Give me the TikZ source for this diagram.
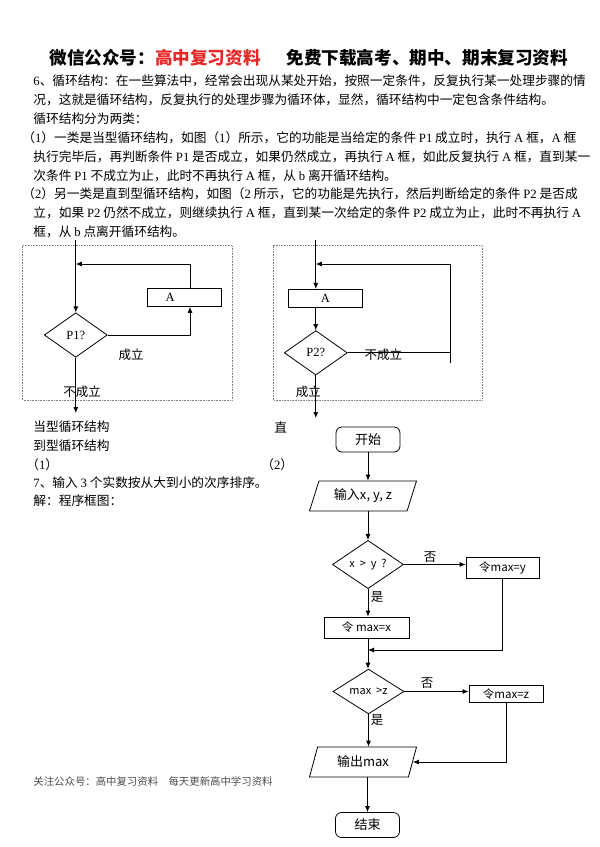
\documentclass[tikz,border=0pt]{standalone}
\usepackage{fontspec}
\setmainfont{Noto Sans CJK SC}
\newfontfamily\latfont{Liberation Serif}
\usepackage{xcolor}
\usetikzlibrary{shapes.geometric,arrows.meta,positioning,calc}
\definecolor{hdrred}{RGB}{230,40,40}
\newcommand{\lat}[1]{{\latfont #1}}
\tikzstyle{txt}=[anchor=west, inner sep=0pt, font=\fontsize{12.7}{15}\selectfont]
\tikzstyle{lbl}=[inner sep=0pt, font=\fontsize{12.5}{15}\selectfont]
\tikzstyle{loopframe}=[draw=gray, densely dotted, line width=0.6pt]
\tikzstyle{abox}=[draw, rectangle, inner sep=0pt, minimum width=74pt, minimum height=18.5pt, font=\fontsize{12.5}{15}\selectfont]
\tikzstyle{cond}=[draw, diamond, inner sep=0pt, minimum width=63pt, minimum height=44.5pt, font=\fontsize{12.5}{15}\selectfont]
\tikzstyle{cond3}=[draw, diamond, inner sep=0pt, minimum width=71pt, minimum height=37pt, font=\fontsize{11}{13}\selectfont]
\tikzstyle{proc}=[draw, rectangle, inner sep=0pt, minimum width=73pt, minimum height=21pt, font=\fontsize{11.5}{13}\selectfont]
\tikzstyle{term}=[draw, rectangle, rounded corners=6pt, inner sep=0pt, minimum width=64pt, minimum height=25pt, font=\fontsize{13}{15}\selectfont]
\tikzstyle{io}=[draw, trapezium, trapezium left angle=56, trapezium right angle=124, trapezium stretches body=true, inner sep=0pt, minimum width=107pt, minimum height=30pt, font=\fontsize{13}{15}\selectfont]

\begin{document}
\begin{tikzpicture}[x=1pt, y=-1pt, line width=0.8pt, >={Latex[length=6pt,width=5pt]}]
\useasboundingbox (0,0) rectangle (600,847);

% titre
\node[anchor=west, inner sep=0pt, font=\fontsize{17.6}{20}\selectfont\bfseries] (head) at (49,58)
  {微信公众号：\textcolor{hdrred}{高中复习资料}\hspace{26pt}免费下载高考、期中、期末复习资料};

% texte
\node[txt] (l1) at (33,81) {\lat{6}、循环结构：在一些算法中，经常会出现从某处开始，按照一定条件，反复执行某一处理步骤的情};
\node[txt] (l2) at (33,100) {况，这就是循环结构，反复执行的处理步骤为循环体，显然，循环结构中一定包含条件结构。};
\node[txt] (l3) at (33,119) {循环结构分为两类：};
\node[txt] (l4) at (22,138) {（\lat{1}）一类是当型循环结构，如图（\lat{1}）所示，它的功能是当给定的条件 \lat{P1} 成立时，执行 \lat{A} 框，\lat{A} 框};
\node[txt] (l5) at (33,157) {执行完毕后，再判断条件 \lat{P1} 是否成立，如果仍然成立，再执行 \lat{A} 框，如此反复执行 \lat{A} 框，直到某一};
\node[txt] (l6) at (33,176) {次条件 \lat{P1} 不成立为止，此时不再执行 \lat{A} 框，从 \lat{b} 离开循环结构。};
\node[txt] (l7) at (22,194) {（\lat{2}）另一类是直到型循环结构，如图（\lat{2} 所示，它的功能是先执行，然后判断给定的条件 \lat{P2} 是否成};
\node[txt] (l8) at (33,213) {立，如果 \lat{P2} 仍然不成立，则继续执行 \lat{A} 框，直到某一次给定的条件 \lat{P2} 成立为止，此时不再执行 \lat{A}};
\node[txt] (l9) at (33,232) {框，从 \lat{b} 点离开循环结构。};

%当型
\draw[loopframe] (22.7,245.7) rectangle (232,400);
\node[cond] (p1) at (75.8,335) {\lat{P1?}};
\node[abox] (a1) at (184.7,297.2) {\lat{A}\hspace*{29pt}};
\coordinate (b1) at (75.8,240);
\coordinate (j1) at (75.8,264);
\coordinate (r1) at (190,264);
\coordinate (o1) at (75.8,413);
\draw (b1) -- (j1);
\draw[->] (j1) -- (p1.north);
\draw[->] (a1.north -| r1) -- (r1) -- (j1);
\draw[->] (p1.east) -| (a1.south -| r1);
\draw[->] (p1.south) -- (o1);
\node[lbl] (y1) at (131,355) {成立};
\node[lbl] (n1) at (82,392) {不成立};

% 直到型
\draw[loopframe] (273,245.7) rectangle (482,400);
\node[abox] (a2) at (325.3,298.5) {\lat{A}};
\node[cond] (p2) at (315.8,352.8) {\lat{P2?}};
\coordinate (b2) at (315.8,240);
\coordinate (j2) at (315.8,264);
\coordinate (r2) at (450.7,264);
\coordinate (e2) at (450.7,363);
\coordinate (o2) at (315.8,418);
\draw (b2) -- (j2);
\draw[->] (j2) -- (a2.north -| j2);
\draw[->] (a2.south -| j2) -- (p2.north);
\draw (p2.east) -- (p2.east -| r2);
\draw[->] (e2) -- (r2) -- (j2);
\draw[->] (p2.south) -- (o2);
\node[lbl] (n2) at (383.3,355) {不成立};
\node[lbl] (y2) at (308.3,391.7) {成立};

% legendes
\node[txt] (c1) at (33,427) {当型循环结构};
\node[txt] (c2) at (33,446) {到型循环结构};
\node[txt] (c3) at (26,465) {（\lat{1}）};
\node[txt] (c4) at (274,427) {直};
\node[txt] (c5) at (261,465) {（\lat{2}）};
\node[txt] (c6) at (33,483) {\lat{7}、输入 \lat{3} 个实数按从大到小的次序排序。};
\node[txt] (c7) at (33,501) {解：程序框图：};

% organigramme
\node[term] (start) at (368,439.5) {开始};
\node[io] (input) at (363,496) {输入x, y, z};
\node[cond3] (cmp1) at (368,564.5) {x \ > \ y \ ?};
\node[proc] (sety) at (502.5,567.5) {令max=y};
\node[proc, minimum width=85pt] (setx) at (366.5,627.5) {令 max=x};
\node[cond3] (cmp2) at (368.5,691.5) {max \ >z};
\node[proc, minimum width=74pt, minimum height=17pt] (setz) at (506,694) {令max=z};
\node[io] (output) at (363,762) {输出max};
\node[term] (stop) at (367.5,825) {结束};
\coordinate (m1) at (368,650);

\draw[->] (start) -- (input.north -| start);
\draw[->] (input.south -| start) -- (cmp1);
\draw[->] (cmp1.east) -- (cmp1.east -| sety.west);
\draw[->] (cmp1.south) -- (setx.north -| cmp1.south);
\draw[->] (sety.south) |- (m1);
\draw[->] (setx.south -| m1) -- (cmp2.north -| m1);
\draw[->] (cmp2.east) -- (cmp2.east -| setz.west);
\draw[->] (cmp2.south) -- (output.north -| cmp2.south);
\draw[->] (setz.south) |- (output.east);
\draw[->] (output.south -| stop) -- (stop);
\node[lbl] (no1) at (430,557) {否};
\node[lbl] (yes1) at (377,597) {是};
\node[lbl] (no2) at (427,683) {否};
\node[lbl] (yes2) at (377,720) {是};

% pied
\node[anchor=west, inner sep=0pt, font=\fontsize{10.4}{12}\selectfont, text=black!70] (foot) at (33,782)
  {关注公众号：高中复习资料　每天更新高中学习资料};

\end{tikzpicture}
\end{document}
